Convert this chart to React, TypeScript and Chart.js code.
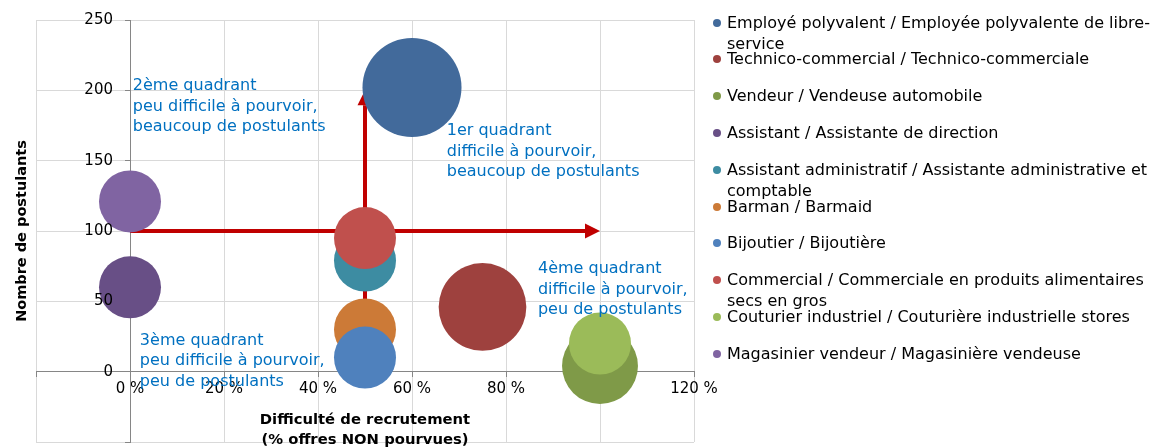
import React, { useEffect, useRef } from "react";
import { Chart, registerables } from "chart.js";

Chart.register(...registerables);

const categories = [
  "Employé polyvalent / Employée polyvalente de libre-service",
  "Technico-commercial / Technico-commerciale",
  "Vendeur / Vendeuse automobile",
  "Assistant / Assistante de direction",
  "Assistant administratif / Assistante administrative et comptable",
  "Barman / Barmaid",
  "Bijoutier / Bijoutière",
  "Commercial / Commerciale en produits alimentaires secs en gros",
  "Couturier industriel / Couturière industrielle stores",
  "Magasinier vendeur / Magasinière vendeuse",
];
const difficulty = [0.6, 0.75, 1.0, 0.0, 0.5, 0.5, 0.5, 0.5, 1.0, 0.0];
const applicants = [202, 46, 4, 60, 79, 30, 10, 95, 20, 121];
const bubbleSizes = [255, 200, 150, 100, 100, 100, 100, 100, 100, 100];
const colors = [
  "#426A9B",
  "#9E413E",
  "#7F9A48",
  "#684F86",
  "#3D8CA2",
  "#CC7A37",
  "#4F81BD",
  "#C0504D",
  "#9BBB59",
  "#8064A2",
];
const xTickValues = [-0.2, 0, 0.2, 0.4, 0.6, 0.8, 1.0, 1.2];
const yTickValues = [-50, 0, 50, 100, 150, 200, 250];

const arrowStarts = [
  [0, 100],
  [0.5, 0],
];
const arrowEnds = [
  [1.0, 100],
  [0.5, 200],
];

const noteTitles = ["2ème quadrant", "1er quadrant", "4ème quadrant", "3ème quadrant"];
const noteLine2 = [
  "peu difficile à pourvoir,",
  "difficile à pourvoir,",
  "difficile à pourvoir,",
  "peu difficile à pourvoir,",
];
const noteLine3 = [
  "beaucoup de postulants",
  "beaucoup de postulants",
  "peu de postulants",
  "peu de postulants",
];
const noteAnchorX = [0.006, 0.674, 0.868, 0.021];
const noteAnchorY = [200, 168, 70, 19];

const xTitleLines = ["Difficulté de recrutement", "(% offres NON pourvues)"];
const yTitle = "Nombre de postulants";

const FONT = "'DejaVu Sans', Verdana, sans-serif";
const BASE_R = 31;

const overlayPlugin = {
  id: "overlay",
  beforeDatasetsDraw(chart: any) {
    const { ctx, scales } = chart;
    const xs = scales.x;
    const ys = scales.y;
    ctx.save();
    ctx.strokeStyle = "#C00000";
    ctx.fillStyle = "#C00000";
    ctx.lineWidth = 4;
    for (let i = 0; i < arrowStarts.length; i++) {
      const x1 = xs.getPixelForValue(arrowStarts[i][0]);
      const y1 = ys.getPixelForValue(arrowStarts[i][1]);
      const x2 = xs.getPixelForValue(arrowEnds[i][0]);
      const y2 = ys.getPixelForValue(arrowEnds[i][1]);
      const ang = Math.atan2(y2 - y1, x2 - x1);
      const head = 15;
      const half = 7.5;
      const bx = x2 - head * Math.cos(ang);
      const by = y2 - head * Math.sin(ang);
      ctx.beginPath();
      ctx.moveTo(x1, y1);
      ctx.lineTo(bx, by);
      ctx.stroke();
      ctx.beginPath();
      ctx.moveTo(x2, y2);
      ctx.lineTo(bx + half * Math.sin(ang), by - half * Math.cos(ang));
      ctx.lineTo(bx - half * Math.sin(ang), by + half * Math.cos(ang));
      ctx.closePath();
      ctx.fill();
    }
    ctx.restore();
  },
  afterDatasetsDraw(chart: any) {
    const { ctx, scales, chartArea } = chart;
    const xs = scales.x;
    const ys = scales.y;
    ctx.save();
    // y tick labels, left of the y axis line
    ctx.fillStyle = "#000000";
    ctx.font = `15px ${FONT}`;
    ctx.textAlign = "right";
    ctx.textBaseline = "middle";
    const axisX = xs.getPixelForValue(0);
    for (const v of yTickValues) {
      if (v < 0) continue;
      ctx.fillText(String(v), axisX - 17, ys.getPixelForValue(v));
    }
    // quadrant notes
    ctx.fillStyle = "#0070C0";
    ctx.font = `16px ${FONT}`;
    ctx.textAlign = "left";
    ctx.textBaseline = "alphabetic";
    for (let i = 0; i < noteTitles.length; i++) {
      const x = xs.getPixelForValue(noteAnchorX[i]);
      const y = ys.getPixelForValue(noteAnchorY[i]);
      ctx.fillText(noteTitles[i], x, y);
      ctx.fillText(noteLine2[i], x, y + 20.5);
      ctx.fillText(noteLine3[i], x, y + 41);
    }
    // axis titles
    ctx.fillStyle = "#000000";
    ctx.font = `bold 14.8px ${FONT}`;
    ctx.textAlign = "center";
    ctx.textBaseline = "middle";
    const cx = (chartArea.left + chartArea.right) / 2;
    ctx.fillText(xTitleLines[0], cx, chartArea.bottom - 22);
    ctx.fillText(xTitleLines[1], cx, chartArea.bottom - 2);
    ctx.translate(22, (chartArea.top + chartArea.bottom) / 2);
    ctx.rotate(-Math.PI / 2);
    ctx.font = `bold 14.5px ${FONT}`;
    ctx.fillText(yTitle, 0, 0);
    ctx.restore();
  },
};

export default function App() {
  const canvasRef = useRef<HTMLCanvasElement | null>(null);

  useEffect(() => {
    document.body.style.margin = "0";
    const canvas = canvasRef.current;
    if (!canvas) return;
    const datasets = categories.map((label, i) => ({
      label,
      data: [{ x: difficulty[i], y: applicants[i], r: BASE_R * Math.sqrt(bubbleSizes[i] / 100) }],
      backgroundColor: colors[i],
      borderColor: colors[i],
      borderWidth: 0,
      hoverRadius: 0,
      order: categories.length - i,
    }));
    const chart = new Chart(canvas, {
      type: "bubble",
      data: { datasets },
      plugins: [overlayPlugin],
      options: {
        animation: false,
        responsive: false,
        maintainAspectRatio: false,
        events: [],
        layout: { autoPadding: false, padding: { left: 36, top: 20, right: 1168 - 694, bottom: 6 } },
        plugins: {
          legend: { display: false },
          tooltip: { enabled: false },
          title: { display: false },
        },
        scales: {
          x: {
            type: "linear",
            min: -0.2,
            max: 1.2,
            position: { y: 0 },
            afterBuildTicks: (scale: any) => {
              scale.ticks = xTickValues.map((v) => ({ value: v }));
            },
            ticks: {
              autoSkip: false,
              maxRotation: 0,
              padding: 3,
              color: "#000000",
              font: { family: FONT, size: 15 },
              callback: (v: any) => (v < -0.001 ? "" : `${Math.round(v * 100)} %`),
            },
            grid: {
              color: "#D9D9D9",
              lineWidth: 1,
              tickColor: "#868686",
              tickLength: 5,
            },
            border: { display: true, color: "#868686", width: 1 },
          },
          y: {
            type: "linear",
            min: -50,
            max: 250,
            position: { x: 0 },
            afterBuildTicks: (scale: any) => {
              scale.ticks = yTickValues.map((v) => ({ value: v }));
            },
            ticks: {
              display: false,
            },
            grid: {
              color: "#D9D9D9",
              lineWidth: 1,
              tickColor: "#868686",
              tickLength: 5,
            },
            border: { display: true, color: "#868686", width: 1 },
          },
        },
      } as any,
    });
    return () => chart.destroy();
  }, []);

  return (
    <div style={{ position: "relative", width: 1168, height: 448, overflow: "hidden", background: "#fff" }}>
      <canvas ref={canvasRef} width={1168} height={448} style={{ position: "absolute", left: 0, top: 0 }} />
      {categories.map((label, i) => (
        <div
          key={label}
          style={{
            position: "absolute",
            left: 713,
            top: 22 + i * 36.8 - 10.5,
            width: 452,
            display: "flex",
            alignItems: "flex-start",
            fontFamily: FONT,
            fontSize: 16,
            lineHeight: "21px",
            color: "#000",
          }}
        >
          <span
            style={{
              display: "inline-block",
              width: 8,
              height: 8,
              borderRadius: "50%",
              background: colors[i],
              marginTop: 7,
              marginRight: 6,
              flex: "0 0 auto",
            }}
          />
          <span style={{ width: 436 }}>{label}</span>
        </div>
      ))}
    </div>
  );
}
